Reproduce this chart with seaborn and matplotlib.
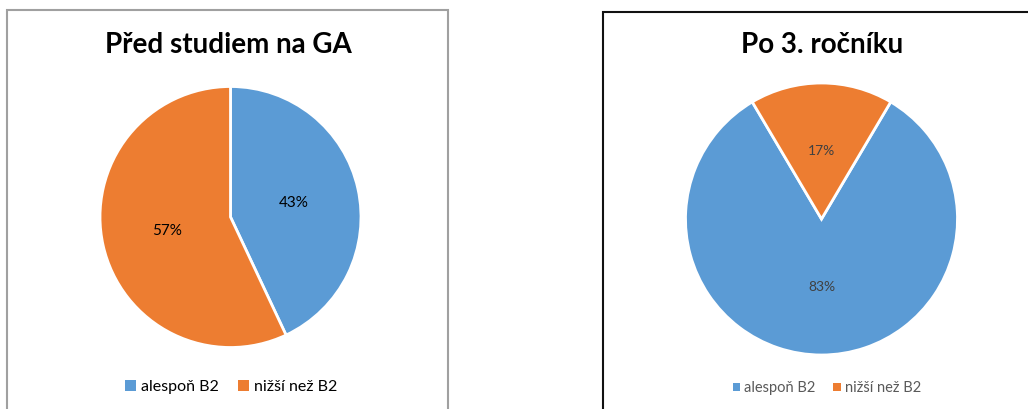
import matplotlib
matplotlib.use("Agg")
import matplotlib.pyplot as plt
import seaborn as sns
from matplotlib.patches import Rectangle, Patch

categories = ["alespoň B2", "nižší než B2"]
before_values = [43, 57]
after_values = [83, 17]
titles = ["Před studiem na GA", "Po 3. ročníku"]

sns.set_theme(style="white")
plt.rcParams["font.family"] = ["Lato", "DejaVu Sans"]
colors = sns.color_palette(["#5B9BD5", "#ED7D31"])

W, H = 1028, 409
fig = plt.figure(figsize=(W / 100, H / 100), dpi=100)
fig.patch.set_facecolor("white")


def fx(px):
    return px / W


def fy(py):
    return 1 - py / H


# panel frames
fig.patches.append(Rectangle((fx(7), fy(412)), fx(441), fy(10) - fy(412),
                             transform=fig.transFigure, fill=False,
                             edgecolor="#a0a0a0", linewidth=1.5))
fig.patches.append(Rectangle((fx(603), fy(412)), fx(440), fy(12) - fy(412),
                             transform=fig.transFigure, fill=False,
                             edgecolor="#111111", linewidth=1.5))


def draw_pie(cx, cy, r, values, startangle, title, tx, ty, title_size,
             label_color, label_size, leg_x, leg_y, leg_size, leg_color, handle_len):
    ax = fig.add_axes([fx(cx - r), fy(cy + r), fx(2 * r), fy(cy - r) - fy(cy + r)])
    wedges, texts, autotexts = ax.pie(
        values, colors=colors, startangle=startangle, counterclock=False,
        autopct="%d%%", pctdistance=0.5,
        wedgeprops=dict(edgecolor="white", linewidth=2),
        textprops=dict(color=label_color, fontsize=label_size))
    ax.set_xlim(-1.0, 1.0)
    ax.set_ylim(-1.0, 1.0)
    ax.set_aspect("equal")
    ax.axis("off")
    fig.text(fx(tx), fy(ty), title, ha="center", va="center",
             fontsize=title_size, fontweight="bold", color="black")
    handles = [Patch(facecolor=c, edgecolor="none") for c in colors]
    fig.legend(handles, categories, loc="center", bbox_to_anchor=(fx(leg_x), fy(leg_y)),
               ncol=2, frameon=False, fontsize=leg_size, labelcolor=leg_color,
               handlelength=handle_len, handleheight=handle_len, handletextpad=0.3,
               columnspacing=1.2)


draw_pie(230.5, 217, 130.5, before_values, 90, titles[0], 228, 45, 20,
         "black", 11, 231, 387, 11.5, "black", 0.7)
draw_pie(821.5, 219, 136, after_values, 90 - 0.17 * 180, titles[1], 822, 45, 20,
         "#404040", 10, 827, 388, 10.5, "#595959", 0.5)

fig.savefig("out.png", dpi=100)
